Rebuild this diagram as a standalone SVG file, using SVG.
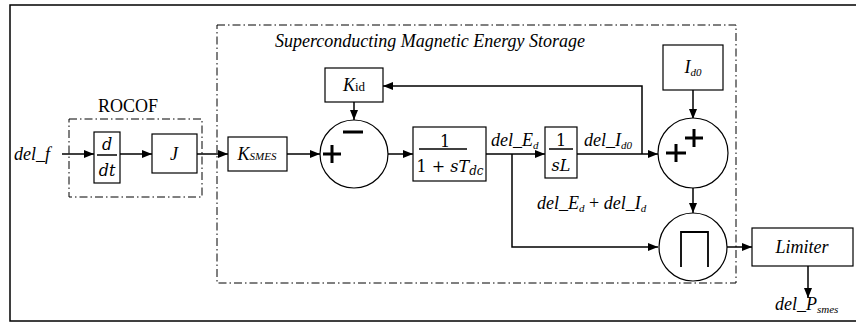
<svg xmlns="http://www.w3.org/2000/svg" width="856" height="323" viewBox="0 0 856 323">
<defs>
<marker id="ah" viewBox="0 0 10 8" refX="10" refY="4" markerWidth="10" markerHeight="8" markerUnits="userSpaceOnUse" orient="auto">
<path d="M0,0 L10,4 L0,8 Z" fill="#000"/>
</marker>
</defs>
<style>
.box{fill:#fff;stroke:#000;stroke-width:1.2}
.dash{fill:none;stroke:#000;stroke-width:1;stroke-dasharray:8,3,1.5,3}
.ln{fill:none;stroke:#000;stroke-width:1.5}
.sgn{fill:none;stroke:#000;stroke-width:3}
.t{font-family:"Liberation Serif","Times New Roman","DejaVu Serif",serif;font-size:18px;font-style:italic;fill:#000}
.r{font-family:"Liberation Serif","Times New Roman","DejaVu Serif",serif;font-size:18px;fill:#000}
.m{font-family:"DejaVu Serif","Liberation Serif",serif;font-size:16px;fill:#000}
</style>
<rect x="10" y="5" width="860" height="316" fill="#fff" stroke="#000" stroke-width="1.5"/>
<g id="smes-frame">
<rect class="dash" x="217" y="25" width="519" height="258"/>
<text class="t" x="275" y="47" font-size="16.5">Superconducting Magnetic Energy Storage</text>
</g>
<g id="rocof-frame">
<rect class="dash" x="69" y="119" width="133" height="78"/>
<text class="r" x="128" y="112" text-anchor="middle">ROCOF</text>
</g>
<g id="connectors">
<line class="ln" x1="62" y1="154" x2="94" y2="154" marker-end="url(#ah)"/>
<line class="ln" x1="120" y1="154" x2="152" y2="154" marker-end="url(#ah)"/>
<line class="ln" x1="197" y1="154" x2="228" y2="154" marker-end="url(#ah)"/>
<line class="ln" x1="287" y1="154" x2="320" y2="154" marker-end="url(#ah)"/>
<line class="ln" x1="388" y1="154" x2="413" y2="154" marker-end="url(#ah)"/>
<line class="ln" x1="486" y1="154" x2="545" y2="154" marker-end="url(#ah)"/>
<polyline class="ln" points="512,154 512,247 658,247" marker-end="url(#ah)"/>
<line class="ln" x1="577" y1="154" x2="658" y2="154" marker-end="url(#ah)"/>
<polyline class="ln" points="642,154 642,86 383,86" marker-end="url(#ah)"/>
<line class="ln" x1="354" y1="102" x2="354" y2="120" marker-end="url(#ah)"/>
<line class="ln" x1="693" y1="90" x2="693" y2="119" marker-end="url(#ah)"/>
<line class="ln" x1="693" y1="187" x2="693" y2="213" marker-end="url(#ah)"/>
<line class="ln" x1="727" y1="247" x2="752" y2="247" marker-end="url(#ah)"/>
<line class="ln" x1="808" y1="266" x2="808" y2="298" marker-end="url(#ah)"/>
</g>
<g id="del_f"><text class="t" x="14" y="160">del_f</text></g>
<g id="ddt">
<rect class="box" x="94" y="132" width="26" height="51"/>
<text class="m" x="107" y="150" text-anchor="middle" font-style="italic">d</text>
<line x1="97" y1="155" x2="117" y2="155" stroke="#000" stroke-width="1.5"/>
<text class="m" x="107" y="176" text-anchor="middle" font-style="italic">dt</text>
</g>
<g id="J">
<rect class="box" x="152" y="134" width="45" height="39"/>
<text class="t" x="174" y="160" text-anchor="middle">J</text>
</g>
<g id="Ksmes">
<rect class="box" x="228" y="137" width="59" height="34"/>
<text class="t" x="257" y="160" text-anchor="middle">K<tspan font-size="11">SMES</tspan></text>
</g>
<g id="sum1">
<circle cx="354" cy="154" r="34" fill="#fff" stroke="#000" stroke-width="1.2"/>
<path class="sgn" d="M343,132 H363 M323,154 H341 M332,145 V163"/>
</g>
<g id="Kid">
<rect class="box" x="325" y="68" width="58" height="34"/>
<text class="t" x="354" y="91" text-anchor="middle">K<tspan font-style="normal" font-size="13">id</tspan></text>
</g>
<g id="tdc">
<rect class="box" x="413" y="127" width="73" height="54"/>
<text class="m" x="445" y="147" text-anchor="middle">1</text>
<line x1="419" y1="149" x2="467" y2="149" stroke="#000" stroke-width="1.5"/>
<text class="m" x="450" y="172" text-anchor="middle">1 + <tspan font-style="italic">sT</tspan><tspan font-style="italic" font-size="12" dy="3">dc</tspan></text>
</g>
<g id="lbl-Ed"><text class="t" x="491" y="146">del_E<tspan font-size="11" dy="3">d</tspan></text></g>
<g id="sL">
<rect class="box" x="545" y="127" width="32" height="51"/>
<text class="m" x="561" y="146" text-anchor="middle">1</text>
<line x1="549" y1="149" x2="573" y2="149" stroke="#000" stroke-width="1.5"/>
<text class="m" x="561" y="171" text-anchor="middle" font-style="italic">sL</text>
</g>
<g id="lbl-Id0"><text class="t" x="584" y="146">del_I<tspan font-size="11" dy="3">d0</tspan></text></g>
<g id="Id0">
<rect class="box" x="663" y="45" width="60" height="45"/>
<text class="t" x="693" y="73" text-anchor="middle">I<tspan font-size="11" dy="3">d0</tspan></text>
</g>
<g id="sum2">
<circle cx="693" cy="153" r="35" fill="#fff" stroke="#000" stroke-width="1.2"/>
<path class="sgn" d="M666,153 H686 M676,144 V162 M685,138 H703 M694,129 V147"/>
</g>
<g id="lbl-sum"><text class="t" x="537" y="209">del_E<tspan font-size="11" dy="3">d</tspan><tspan dy="-3" font-style="normal"> + </tspan>del_I<tspan font-size="11" dy="3">d</tspan></text></g>
<g id="prod">
<circle cx="693" cy="247" r="34" fill="#fff" stroke="#000" stroke-width="1.2"/>
<path d="M681,267 V232 H708 V267" fill="none" stroke="#000" stroke-width="1.8"/>
</g>
<g id="limiter">
<rect class="box" x="752" y="228" width="101" height="38"/>
<text class="t" x="802" y="253" text-anchor="middle" font-size="19">Limiter</text>
</g>
<g id="lbl-P"><text class="t" x="775" y="310">del_P<tspan font-size="11" dy="3">smes</tspan></text></g>
</svg>
